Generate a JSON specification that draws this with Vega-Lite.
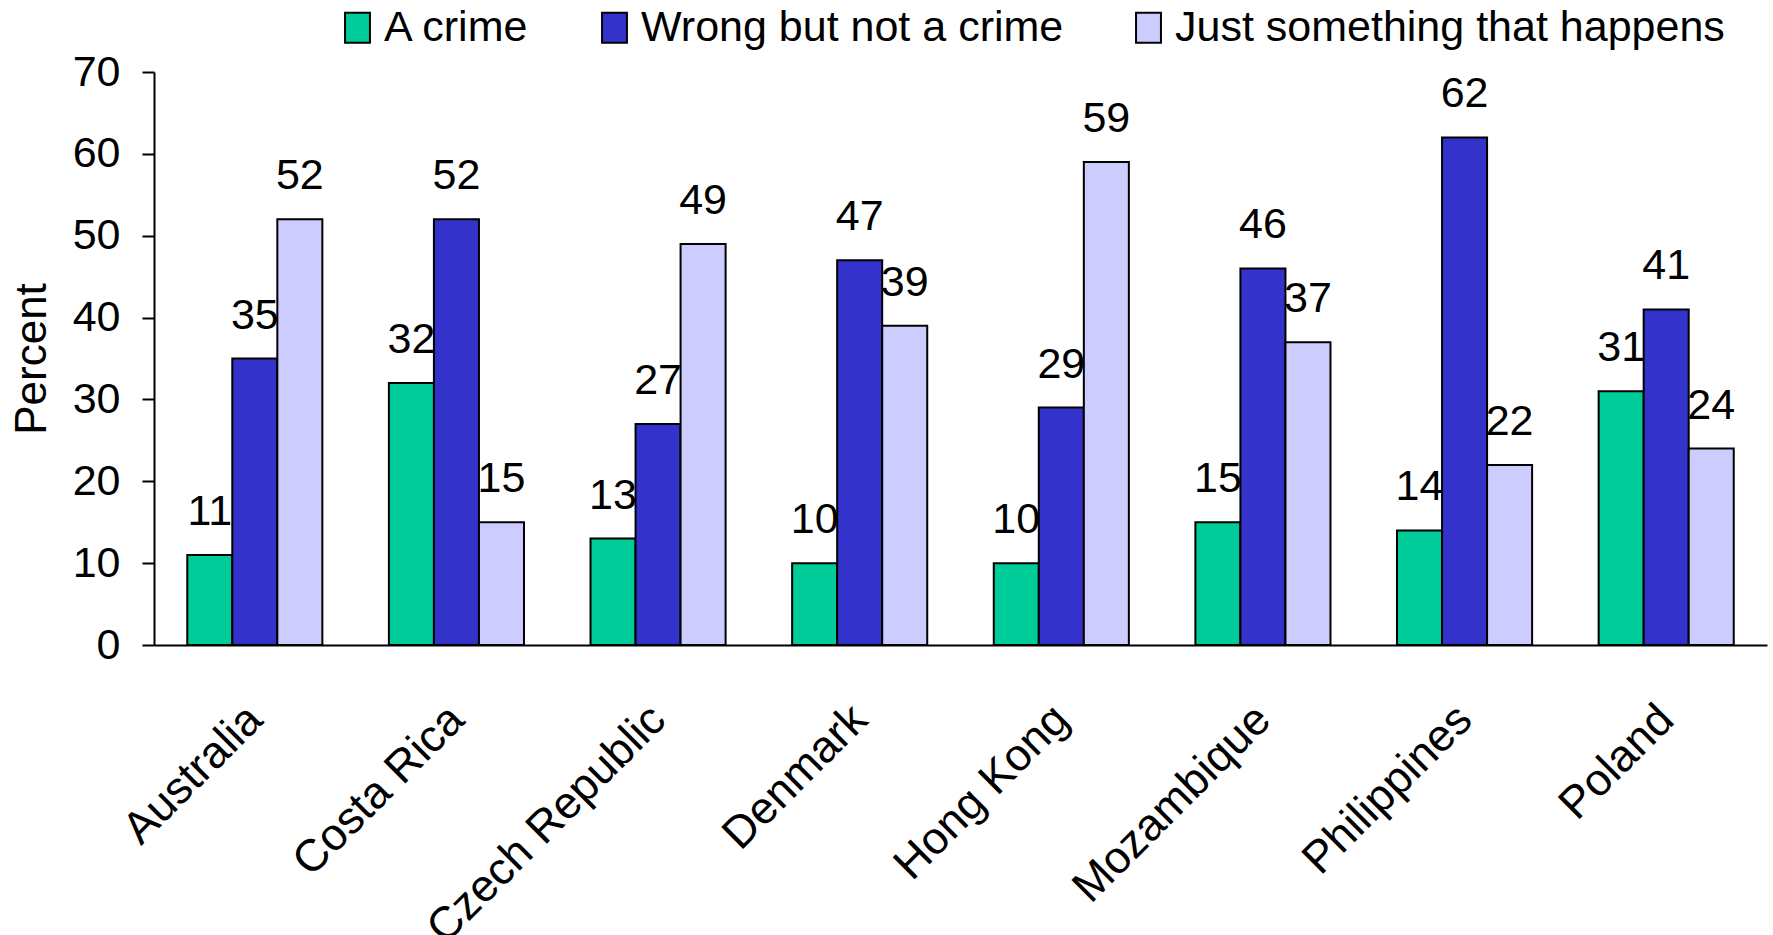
{
  "$schema": "https://vega.github.io/schema/vega-lite/v6.json",
  "autosize": {"type": "none"},
  "padding": {"left": 154, "top": 72, "right": 6, "bottom": 290},
  "width": 1613,
  "height": 573,
  "background": "white",
  "config": {
    "view": {"stroke": null},
    "font": "Liberation Sans",
    "axis": {"labelFont": "Liberation Sans", "titleFont": "Liberation Sans", "labelColor": "black", "titleColor": "black"},
    "legend": {"labelFont": "Liberation Sans"}
  },
  "data": {
    "values": [
      {"country": "Australia", "type": "A crime", "value": 11},
      {"country": "Australia", "type": "Wrong but not a crime", "value": 35},
      {"country": "Australia", "type": "Just something that happens", "value": 52},
      {"country": "Costa Rica", "type": "A crime", "value": 32},
      {"country": "Costa Rica", "type": "Wrong but not a crime", "value": 52},
      {"country": "Costa Rica", "type": "Just something that happens", "value": 15},
      {"country": "Czech Republic", "type": "A crime", "value": 13},
      {"country": "Czech Republic", "type": "Wrong but not a crime", "value": 27},
      {"country": "Czech Republic", "type": "Just something that happens", "value": 49},
      {"country": "Denmark", "type": "A crime", "value": 10},
      {"country": "Denmark", "type": "Wrong but not a crime", "value": 47},
      {"country": "Denmark", "type": "Just something that happens", "value": 39},
      {"country": "Hong Kong", "type": "A crime", "value": 10},
      {"country": "Hong Kong", "type": "Wrong but not a crime", "value": 29},
      {"country": "Hong Kong", "type": "Just something that happens", "value": 59},
      {"country": "Mozambique", "type": "A crime", "value": 15},
      {"country": "Mozambique", "type": "Wrong but not a crime", "value": 46},
      {"country": "Mozambique", "type": "Just something that happens", "value": 37},
      {"country": "Philippines", "type": "A crime", "value": 14},
      {"country": "Philippines", "type": "Wrong but not a crime", "value": 62},
      {"country": "Philippines", "type": "Just something that happens", "value": 22},
      {"country": "Poland", "type": "A crime", "value": 31},
      {"country": "Poland", "type": "Wrong but not a crime", "value": 41},
      {"country": "Poland", "type": "Just something that happens", "value": 24}
    ]
  },
  "encoding": {
    "x": {
      "field": "country",
      "type": "nominal",
      "sort": null,
      "scale": {"paddingInner": 0.33, "paddingOuter": 0.165},
      "axis": {
        "title": null,
        "labelAngle": -45,
        "labelAlign": "right",
        "labelBaseline": "middle",
        "labelFontSize": 45,
        "labelPadding": 67,
        "labelDx": -14,
        "ticks": false,
        "domainColor": "black",
        "domainWidth": 2,
        "labelLimit": 0,
        "labelOverlap": false,
        "labelBound": false
      }
    },
    "xOffset": {
      "field": "type",
      "type": "nominal",
      "sort": ["A crime", "Wrong but not a crime", "Just something that happens"]
    },
    "y": {
      "field": "value",
      "type": "quantitative",
      "scale": {"domain": [0, 70], "nice": false},
      "axis": {
        "values": [0, 10, 20, 30, 40, 50, 60, 70],
        "grid": false,
        "title": "Percent",
        "titleFontSize": 44,
        "titleFontWeight": "normal",
        "titlePadding": 18,
        "labelFontSize": 43,
        "labelPadding": 22,
        "tickSize": 12,
        "tickWidth": 2,
        "tickColor": "black",
        "domainColor": "black",
        "domainWidth": 2
      }
    }
  },
  "layer": [
    {
      "mark": {"type": "bar", "stroke": "black", "strokeWidth": 2},
      "encoding": {
        "color": {
          "field": "type",
          "type": "nominal",
          "scale": {
            "domain": ["A crime", "Wrong but not a crime", "Just something that happens"],
            "range": ["#00CC99", "#3333CC", "#CCCCFF"]
          },
          "legend": {
            "title": null,
            "orient": "none",
            "direction": "horizontal",
            "legendX": 182,
            "legendY": -66,
            "padding": 0,
            "symbolType": "M-0.83,-1L0.83,-1L0.83,1L-0.83,1Z",
            "symbolSize": 900,
            "symbolStrokeColor": "black",
            "symbolStrokeWidth": 2,
            "symbolOpacity": 1,
            "labelFontSize": 43,
            "labelColor": "black",
            "labelOffset": 5,
            "labelLimit": 0,
            "columnPadding": 63
          }
        }
      }
    },
    {
      "mark": {"type": "text", "fontSize": 43, "color": "black", "baseline": "alphabetic", "dy": -30},
      "encoding": {
        "text": {"field": "value", "type": "quantitative"}
      }
    }
  ]
}
